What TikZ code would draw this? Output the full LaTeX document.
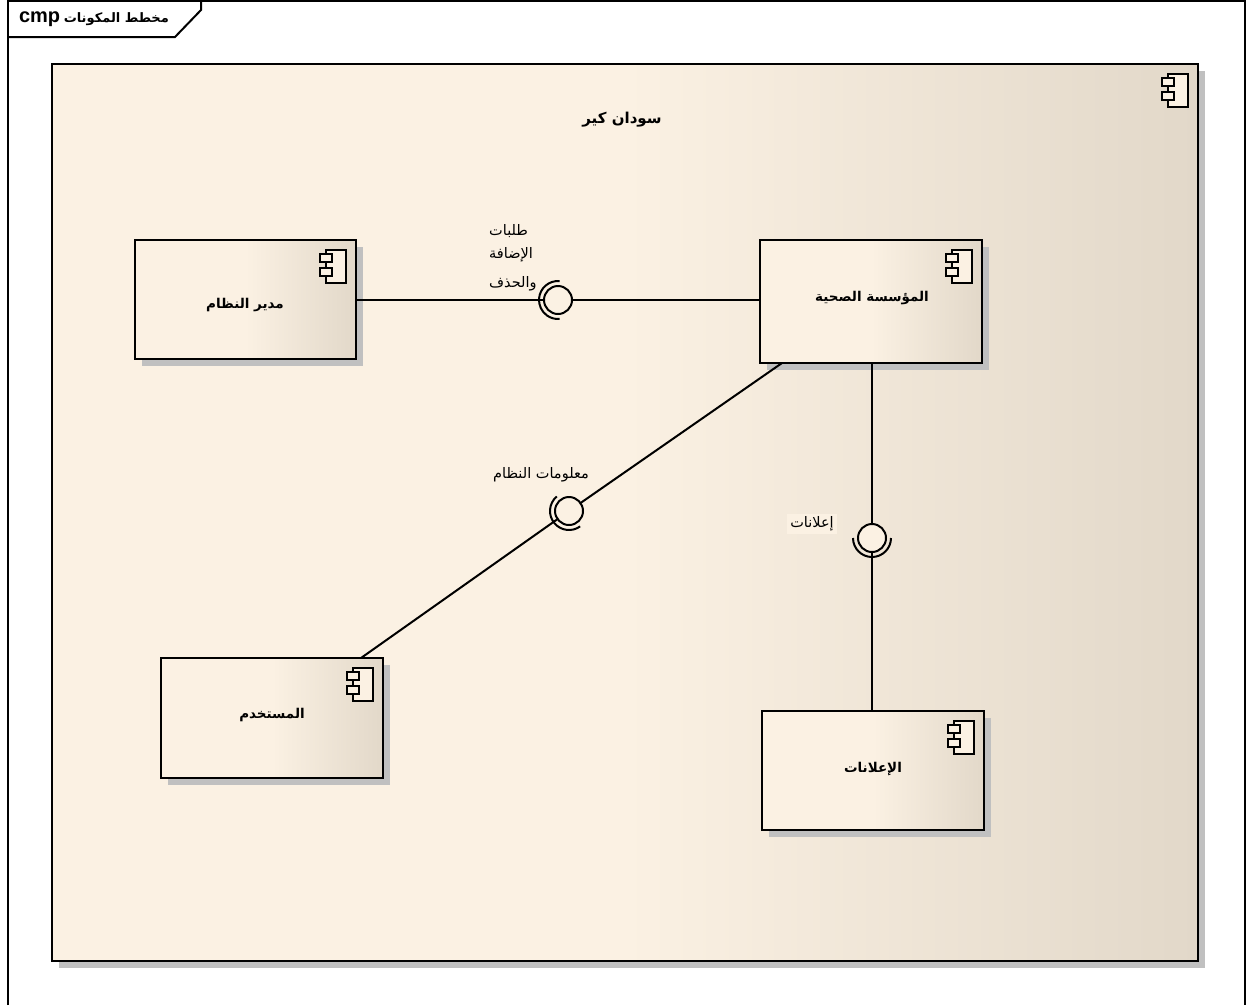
\documentclass[tikz,border=0pt]{standalone}
\usepackage{fontspec}
\usetikzlibrary{shadows}
\TeXXeTstate=1
\setmainfont{Liberation Sans}
\newfontfamily\arabicfont[Script=Arabic]{DejaVu Sans}
\newcommand{\artext}[1]{{\arabicfont\beginR #1\endR}}
\definecolor{paper}{HTML}{FBF1E3}
\definecolor{paperdark}{HTML}{E2D8C9}
\definecolor{shade}{HTML}{C0C0C0}
\tikzset{
	compbox/.style = {draw, line width = 2pt, anchor = north west, inner sep = 0pt, outer sep = 0pt,
		left color = paper, right color = paperdark, middle color = paper,
		drop shadow = {shadow xshift = 7pt, shadow yshift = -7pt, fill = shade, opacity = 1}},
	iface/.style = {circle, draw, line width = 2pt, fill = paper, minimum size = 28pt, inner sep = 0pt, outer sep = 0pt},
	socket/.style = {line width = 2pt},
	wire/.style = {line width = 2pt},
	lbl/.style = {font = \fontsize{14.5}{16}\selectfont, inner sep = 1pt},
	boldlbl/.style = {font = \fontsize{13.5}{16}\selectfont\bfseries, inner sep = 1pt},
}
\newcommand{\compicon}[1]{
	\begin{scope}[shift = {(#1)}, line width = 2pt, fill = paper]
	\filldraw (-30, 10) rectangle (-10, 43);
	\filldraw (-36, 14) rectangle (-24, 22);
	\filldraw (-36, 28) rectangle (-24, 36);
	\end{scope}
}
\begin{document}
\begin{tikzpicture}[x = 1pt, y = -1pt]
	\useasboundingbox (0, 0) rectangle (1250, 1005);
	% frame and its tab
	\draw [line width = 2pt] (8, 1005) -- (8, 0.5) -- (1245, 0.5) -- (1245, 1005);
	\draw [line width = 2pt] (8, 37) -- (175, 37) -- (201, 10) -- (201, 0);
	\node [font = \fontsize{13}{16}\selectfont\bfseries, inner sep = 0pt] (tab) at (94, 19)
		{\beginR\artext{مخطط المكونات} \beginL{\fontsize{20}{16}\selectfont cmp}\endL\endR};
	% the system
	\node [compbox, minimum width = 1146pt, minimum height = 897pt] (system) at (52, 64) {};
	\compicon{system.north east}
	\node [boldlbl, font = \fontsize{15}{16}\selectfont\bfseries] (systemname) at (622, 120) {\artext{سودان كير}};
	% components
	\node [compbox, minimum width = 221pt, minimum height = 119pt] (admin) at (135, 240) {};
	\node [compbox, minimum width = 222pt, minimum height = 123pt] (org) at (760, 240) {};
	\node [compbox, minimum width = 222pt, minimum height = 120pt] (user) at (161, 658) {};
	\node [compbox, minimum width = 222pt, minimum height = 119pt] (ads) at (762, 711) {};
	\compicon{admin.north east}
	\compicon{org.north east}
	\compicon{user.north east}
	\compicon{ads.north east}
	\node [boldlbl] (adminname) at (245, 305) {\artext{مدير النظام}};
	\node [boldlbl] (orgname) at (872, 298) {\artext{المؤسسة الصحية}};
	\node [boldlbl] (username) at (272, 715) {\artext{المستخدم}};
	\node [boldlbl] (adsname) at (873, 769) {\artext{الإعلانات}};
	% interfaces
	\node [iface] (ifone) at (558, 300) {};
	\node [iface] (iftwo) at (569, 511) {};
	\node [iface] (ifthree) at (872, 538) {};
	\coordinate (orgfoot) at (782, 363);
	\coordinate (userhead) at (361, 658);
	\draw [wire] (admin.east |- ifone) -- (ifone);
	\draw [wire] (ifone) -- (org.west |- ifone);
	\draw [wire] (orgfoot) -- (iftwo);
	\draw [wire] (iftwo) -- (userhead);
	\draw [wire] (org.south -| ifthree) -- (ifthree);
	\draw [wire] (ifthree) -- (ads.north -| ifthree);
	\draw [socket] (ifone) ++ (275:19) arc [start angle = 275, end angle = 85, radius = 19];
	\draw [socket] (iftwo) ++ (230:19) arc [start angle = 230, end angle = 54, radius = 19];
	\draw [socket] (ifthree) ++ (180:19) arc [start angle = 180, end angle = 0, radius = 19];
	% labels
	\node [lbl, anchor = west] (reqone) at (488, 231) {\artext{طلبات}};
	\node [lbl, anchor = west] (reqtwo) at (488, 255) {\artext{الإضافة}};
	\node [lbl, anchor = west] (reqthree) at (488, 284) {\artext{والحذف}};
	\node [lbl] (infolabel) at (541, 475) {\artext{معلومات النظام}};
	\node [lbl, fill = paper, inner xsep = 3pt, inner ysep = 3pt] (adslabel) at (812, 524) {\artext{إعلانات}};
\end{tikzpicture}
\end{document}
